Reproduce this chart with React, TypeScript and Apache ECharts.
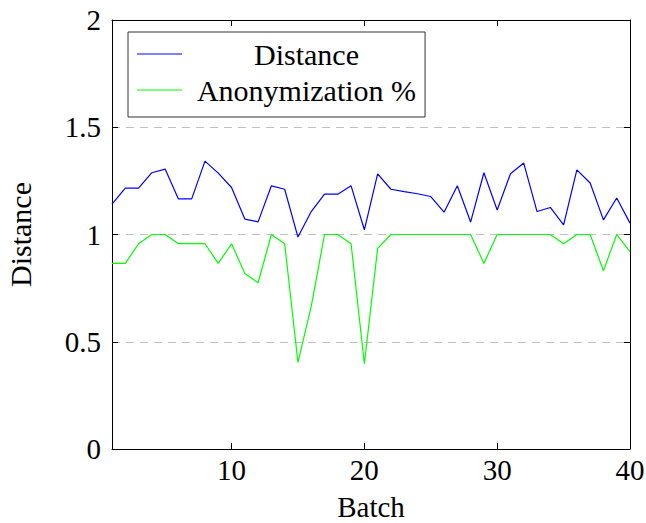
import React, { useEffect, useRef } from "react";
import * as echarts from "echarts";

const batches = [1, 2, 3, 4, 5, 6, 7, 8, 9, 10, 11, 12, 13, 14, 15, 16, 17, 18, 19, 20, 21, 22, 23, 24, 25, 26, 27, 28, 29, 30, 31, 32, 33, 34, 35, 36, 37, 38, 39, 40];
const distance = [1.142, 1.216, 1.216, 1.288, 1.305, 1.166, 1.166, 1.342, 1.286, 1.219, 1.072, 1.059, 1.227, 1.211, 0.988, 1.107, 1.188, 1.188, 1.227, 1.022, 1.283, 1.211, 1.2, 1.19, 1.177, 1.104, 1.227, 1.058, 1.288, 1.114, 1.283, 1.333, 1.107, 1.126, 1.045, 1.301, 1.24, 1.068, 1.17, 1.053];
const anonymization = [0.865, 0.865, 0.957, 1.0, 1.0, 0.957, 0.957, 0.957, 0.865, 0.957, 0.818, 0.775, 1.0, 0.957, 0.404, 0.665, 1.0, 1.0, 0.957, 0.398, 0.935, 1.0, 1.0, 1.0, 1.0, 1.0, 1.0, 1.0, 0.865, 1.0, 1.0, 1.0, 1.0, 1.0, 0.957, 1.0, 1.0, 0.831, 1.0, 0.92];
const xTicks = [10, 20, 30, 40];
const yTicks = [0, 0.5, 1, 1.5, 2];
const seriesNames = ["Distance", "Anonymization %"];

const FONT = "Liberation Serif";

export default function App() {
  const ref = useRef<HTMLDivElement>(null);
  useEffect(() => {
    if (!ref.current) return;
    document.body.style.margin = "0";
    const chart = echarts.init(ref.current, null, { renderer: "svg" });
    const tick = { show: true, inside: true, length: 6, lineStyle: { color: "#000", width: 1 } };
    chart.setOption({
      animation: false,
      backgroundColor: "#fff",
      grid: { left: 112, right: 16, top: 20, bottom: 74, containLabel: false, outerBoundsMode: "none" },
      legend: {
        orient: "vertical",
        left: 128,
        top: 32,
        padding: [7, 9, 12, 9],
        itemWidth: 45,
        itemHeight: 1,
        itemGap: 6,
        itemTextGap: 5,
        icon: "rect",
        borderColor: "#333",
        borderWidth: 1,
        borderRadius: 0,
        backgroundColor: "#fff",
        formatter: (name: string) => `{a|${name}}`,
        textStyle: {
          fontFamily: FONT,
          fontSize: 30,
          color: "#000",
          rich: { a: { fontFamily: FONT, fontSize: 30, color: "#000", width: 239, align: "center" } },
        },
        data: seriesNames,
      },
      xAxis: [
        {
          type: "value",
          min: 1,
          max: 40,
          position: "bottom",
          name: "Batch",
          nameLocation: "middle",
          nameGap: 44,
          nameTextStyle: { fontFamily: FONT, fontSize: 29, lineHeight: 28, color: "#000" },
          axisLine: { show: true, onZero: false, lineStyle: { color: "#000", width: 1 } },
          axisTick: { ...tick, customValues: xTicks },
          axisLabel: { customValues: xTicks, fontFamily: FONT, fontSize: 29, color: "#000", margin: 6 },
          splitLine: { show: false },
        },
        {
          type: "value",
          min: 1,
          max: 40,
          position: "top",
          axisLine: { show: true, onZero: false, lineStyle: { color: "#000", width: 1 } },
          axisTick: { ...tick, customValues: xTicks },
          axisLabel: { show: false },
          splitLine: { show: false },
        },
      ],
      yAxis: [
        {
          type: "value",
          min: 0,
          max: 2,
          interval: 0.5,
          position: "left",
          name: "Distance",
          nameLocation: "middle",
          nameGap: 77,
          nameTextStyle: { fontFamily: FONT, fontSize: 30, color: "#000" },
          axisLine: { show: true, onZero: false, lineStyle: { color: "#000", width: 1 } },
          axisTick: { ...tick, customValues: yTicks },
          axisLabel: { customValues: yTicks, fontFamily: FONT, fontSize: 29, color: "#000", margin: 11 },
          splitLine: { show: true, lineStyle: { color: "#c0c0c0", type: [8, 6], width: 1 } },
        },
        {
          type: "value",
          min: 0,
          max: 2,
          interval: 0.5,
          position: "right",
          axisLine: { show: true, onZero: false, lineStyle: { color: "#000", width: 1 } },
          axisTick: { ...tick, customValues: yTicks },
          axisLabel: { show: false },
          splitLine: { show: false },
        },
      ],
      series: [
        {
          name: seriesNames[0],
          type: "line",
          symbol: "none",
          color: "#0000ff",
          lineStyle: { color: "#0000ff", width: 1.2 },
          data: batches.map((b, i) => [b, distance[i]]),
        },
        {
          name: seriesNames[1],
          type: "line",
          symbol: "none",
          color: "#00ff00",
          lineStyle: { color: "#00ff00", width: 1.2 },
          data: batches.map((b, i) => [b, anonymization[i]]),
        },
      ],
    });
    return () => chart.dispose();
  }, []);
  return <div ref={ref} style={{ width: 646, height: 523 }} />;
}
